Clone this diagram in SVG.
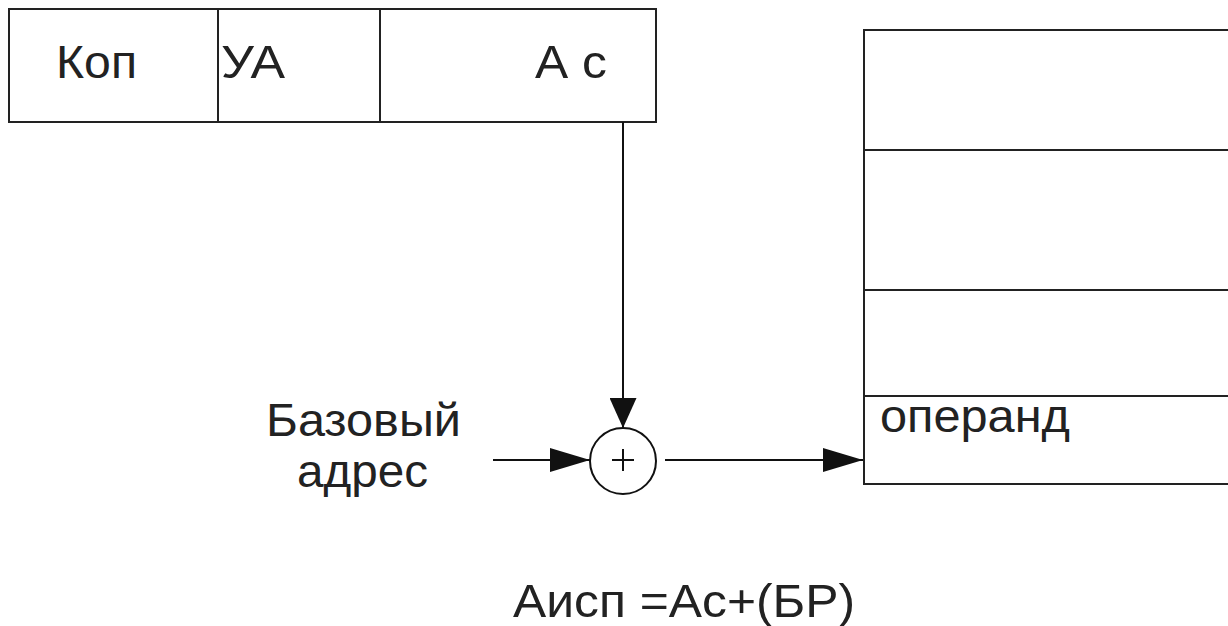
<svg xmlns="http://www.w3.org/2000/svg" width="1228" height="626" viewBox="0 0 1228 626">
  <style>
    .box { fill: #ffffff; stroke: #222222; stroke-width: 2; }
    .rule { stroke: #222222; stroke-width: 2; fill: none; }
    .conn { stroke: #111111; stroke-width: 2; fill: none; }
    .lbl { font-family: "Liberation Sans", Arial, sans-serif; font-size: 47px; fill: #222222; }
  </style>
  <defs>
    <marker id="head" viewBox="0 0 40 24" refX="40" refY="12" markerWidth="40" markerHeight="24" markerUnits="userSpaceOnUse" orient="auto">
      <path d="M0,0 L40,12 L0,24 Z" fill="#111111"/>
    </marker>
    <marker id="headShort" viewBox="0 0 30 27" refX="30" refY="13.5" markerWidth="30" markerHeight="27" markerUnits="userSpaceOnUse" orient="auto">
      <path d="M0,0 L30,13.5 L0,27 Z" fill="#111111"/>
    </marker>
  </defs>

  <rect width="1228" height="626" fill="#ffffff"/>

  <!-- instruction word: opcode, addressing flag, displacement -->
  <g id="instruction">
    <rect class="box" x="9" y="9" width="647" height="113"/>
    <line class="rule" x1="218" y1="9" x2="218" y2="122"/>
    <line class="rule" x1="380" y1="9" x2="380" y2="122"/>
    <text class="lbl" x="56" y="78" textLength="81" lengthAdjust="spacingAndGlyphs">Коп</text>
    <text class="lbl" x="221" y="78" textLength="64" lengthAdjust="spacingAndGlyphs">УА</text>
    <text class="lbl" x="535" y="78" textLength="72" lengthAdjust="spacingAndGlyphs">А с</text>
  </g>

  <!-- memory block -->
  <g id="memory">
    <rect class="box" x="864" y="30" width="380" height="454"/>
    <line class="rule" x1="864" y1="150" x2="1228" y2="150"/>
    <line class="rule" x1="864" y1="290" x2="1228" y2="290"/>
    <line class="rule" x1="864" y1="396" x2="1228" y2="396"/>
    <text class="lbl" x="880" y="432" textLength="190" lengthAdjust="spacingAndGlyphs">операнд</text>
  </g>

  <!-- adder -->
  <g id="adder">
    <circle cx="623" cy="461" r="33" fill="#ffffff" stroke="#111111" stroke-width="2"/>
    <line class="conn" x1="612" y1="460" x2="634" y2="460" stroke-width="3"/>
    <line class="conn" x1="623" y1="449" x2="623" y2="471" stroke-width="3"/>
  </g>

  <!-- base address input -->
  <g id="base">
    <text class="lbl" x="266" y="436" textLength="195" lengthAdjust="spacingAndGlyphs">Базовый</text>
    <text class="lbl" x="297" y="487" textLength="131" lengthAdjust="spacingAndGlyphs">адрес</text>
  </g>

  <!-- formula -->
  <g id="formula">
    <text class="lbl" x="513" y="617" textLength="342" lengthAdjust="spacingAndGlyphs">Аисп =Ас+(БР)</text>
  </g>

  <g id="connectors">
    <line class="conn" x1="623" y1="122" x2="623" y2="428" marker-end="url(#headShort)"/>
    <line class="conn" x1="493" y1="460" x2="590" y2="460" marker-end="url(#head)"/>
    <line class="conn" x1="665" y1="460" x2="863" y2="460" marker-end="url(#head)"/>
  </g>
</svg>
